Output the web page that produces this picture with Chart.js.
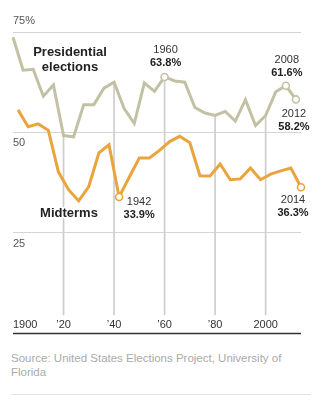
<!DOCTYPE html>
<html>
<head>
<meta charset="utf-8">
<script src="https://cdn.jsdelivr.net/npm/chart.js@4.4.1/dist/chart.umd.min.js"></script>
<style>
  body { margin: 0; background: #fff; font-family: "Liberation Sans", Arial, sans-serif; }
  #wrap { position: relative; width: 325px; height: 340px; }
  .source { position: absolute; left: 11px; top: 351px; width: 300px; font-size: 11.5px; line-height: 14px; color: #aaa; }
  .rule { position: absolute; left: 11px; top: 394px; width: 300px; border-top: 1px solid #e4e4e4; }
</style>
</head>
<body>
<div id="wrap"><canvas id="turnoutChart" width="325" height="340"></canvas></div>
<div class="source">Source: United States Elections Project, University of Florida</div>
<div class="rule"></div>
<script>
'use strict';

// ===== Data =====
const presYears = [1900, 1904, 1908, 1912, 1916, 1920, 1924, 1928, 1932, 1936, 1940, 1944, 1948, 1952, 1956,
  1960, 1964, 1968, 1972, 1976, 1980, 1984, 1988, 1992, 1996, 2000, 2004, 2008, 2012];
const presTurnout = [73.7, 65.5, 65.7, 59.0, 61.8, 49.2, 48.9, 56.9, 56.9, 61.0, 62.5, 55.9, 52.2, 62.3, 60.2,
  63.8, 62.8, 62.5, 56.2, 54.8, 54.2, 55.2, 52.8, 58.1, 51.7, 54.2, 60.1, 61.6, 58.2];

const midYears = [1902, 1906, 1910, 1914, 1918, 1922, 1926, 1930, 1934, 1938, 1942, 1946, 1950, 1954, 1958,
  1962, 1966, 1970, 1974, 1978, 1982, 1986, 1990, 1994, 1998, 2002, 2006, 2010, 2014];
const midTurnout = [55.6, 51.4, 52.1, 50.5, 40.1, 35.7, 32.9, 36.5, 44.9, 46.9, 33.9, 38.8, 43.6, 43.6, 45.5,
  47.7, 49.0, 47.4, 39.2, 39.1, 42.1, 38.2, 38.4, 41.1, 38.2, 39.6, 40.4, 41.1, 36.3];

const presHighlight = [1960, 2008, 2012];
const midHighlight = [1942, 2014];

const xTickYears = [1900, 1920, 1940, 1960, 1980, 2000];
const xTickLabels = ['1900', '\u201920', '\u201940', '\u201960', '\u201980', '2000'];
const yTickValues = [25, 50, 75];
const yTickLabels = ['25', '50', '75%'];

// decade markers drawn up to the presidential line
const guideYears = [1920, 1940, 1960, 1980, 2000];
const guideFloor = 4.5; // leave room for the year labels

// ===== Style =====
const presColor = '#c2c1a3';
const midColor = '#e9a43e';
const gridColor = '#d4d4d4';
const fontFamily = '"Liberation Sans", Arial, sans-serif';
Chart.defaults.font.family = fontFamily;

const toPoints = (xs, ys) => xs.map((x, i) => ({ x: x, y: ys[i] }));
const guidePoints = guideYears.map(y => ({ x: y, y: [guideFloor, presTurnout[presYears.indexOf(y)]] }));

// label offsets around highlighted points [dx, dy of the year line]
const labelPlace = {
  '0-1960': [1, -27],
  '0-2008': [1, -26],
  '0-2012': [-2, 15],
  '1-1942': [20, 5],
  '1-2014': [-8, 13]
};

function haloText(ctx, text, x, y) {
  ctx.strokeText(text, x, y);
  ctx.fillText(text, x, y);
}

// keep the axes from taking space or padding away from the plot
function noSpace(s) {
  if (s.isHorizontal()) s.height = 0; else s.width = 0;
  s.paddingTop = 0; s.paddingBottom = 0; s.paddingLeft = 0; s.paddingRight = 0;
}

const annotate = {
  id: 'annotate',
  afterDatasetsDraw(chart) {
    const ctx = chart.ctx;
    ctx.save();
    ctx.textAlign = 'center';
    ctx.textBaseline = 'middle';
    ctx.strokeStyle = '#fff';
    ctx.lineWidth = 3;
    ctx.lineJoin = 'round';

    [[0, presYears, presTurnout, presHighlight], [1, midYears, midTurnout, midHighlight]].forEach(([ds, yrs, vals, hi]) => {
      const meta = chart.getDatasetMeta(ds);
      hi.forEach(yr => {
        const idx = yrs.indexOf(yr);
        const pt = meta.data[idx];
        const [dx, dy] = labelPlace[ds + '-' + yr];
        ctx.fillStyle = '#333';
        ctx.font = '11px ' + fontFamily;
        haloText(ctx, String(yr), pt.x + dx, pt.y + dy);
        ctx.fillStyle = '#222';
        ctx.font = 'bold 11px ' + fontFamily;
        haloText(ctx, vals[idx].toFixed(1) + '%', pt.x + dx, pt.y + dy + 13);
      });
    });

    // series names
    const area = chart.chartArea;
    ctx.fillStyle = '#222';
    ctx.font = 'bold 13px ' + fontFamily;
    haloText(ctx, 'Presidential', area.left + 57, 52);
    haloText(ctx, 'elections', area.left + 57, 67);
    haloText(ctx, 'Midterms', area.left + 56, 213);
    ctx.restore();
  }
};

// dark baseline at zero, stroked last so nothing covers it
const baseline = {
  id: 'baseline',
  afterDraw(chart) {
    const ctx = chart.ctx;
    const area = chart.chartArea;
    const y0 = Math.round(chart.scales.y.getPixelForValue(0)) + 0.5;
    ctx.save();
    ctx.strokeStyle = '#333';
    ctx.lineWidth = 1.5;
    ctx.beginPath();
    ctx.moveTo(area.left, y0);
    ctx.lineTo(area.right, y0);
    ctx.stroke();
    ctx.restore();
  }
};

new Chart(document.getElementById('turnoutChart'), {
  type: 'line',
  data: {
    datasets: [{
      label: 'Presidential elections',
      data: toPoints(presYears, presTurnout),
      borderColor: presColor,
      borderWidth: 3,
      tension: 0,
      clip: false,
      order: 1,
      pointRadius: c => presHighlight.includes(presYears[c.dataIndex]) ? 3.5 : 0,
      pointBackgroundColor: '#fff',
      pointBorderColor: presColor,
      pointBorderWidth: 1.6
    }, {
      label: 'Midterms',
      data: toPoints(midYears, midTurnout),
      borderColor: midColor,
      borderWidth: 3,
      tension: 0,
      clip: false,
      order: 1,
      pointRadius: c => midHighlight.includes(midYears[c.dataIndex]) ? 3.5 : 0,
      pointBackgroundColor: '#fff',
      pointBorderColor: midColor,
      pointBorderWidth: 1.6
    }, {
      type: 'bar',
      label: 'guides',
      data: guidePoints,
      backgroundColor: '#cdcdcd',
      barThickness: 1,
      order: 3
    }]
  },
  options: {
    responsive: false,
    animation: false,
    layout: { padding: { left: 13, right: 24, top: 32, bottom: 7 } },
    plugins: { legend: { display: false }, tooltip: { enabled: false } },
    scales: {
      x: {
        type: 'linear', min: 1900, max: 2014, offset: false,
        grid: { display: true, color: 'rgba(0,0,0,0)', drawTicks: false },
        border: { display: false },
        afterBuildTicks: s => { s.ticks = xTickYears.concat([2014]).map(v => ({ value: v })); },
        afterFit: noSpace,
        ticks: {
          autoSkip: false, maxRotation: 0, align: 'inner', mirror: true, padding: 3,
          color: '#333', font: { size: 11, lineHeight: 1 },
          callback: v => { const i = xTickYears.indexOf(v); return i < 0 ? '' : xTickLabels[i]; }
        }
      },
      y: {
        min: 0, max: 75,
        grid: { color: gridColor, drawTicks: false },
        border: { display: false },
        afterBuildTicks: s => { s.ticks = yTickValues.map(v => ({ value: v })); },
        afterFit: noSpace,
        ticks: {
          mirror: true, padding: 0, color: '#555', font: { size: 11, lineHeight: 1 },
          callback: v => {
            const lbl = yTickLabels[yTickValues.indexOf(v)];
            // top label sits above its line, the others below
            return v === 75 ? [lbl, '', ''] : ['', '', lbl];
          }
        }
      }
    }
  },
  plugins: [annotate, baseline]
});
</script>
</body>
</html>
